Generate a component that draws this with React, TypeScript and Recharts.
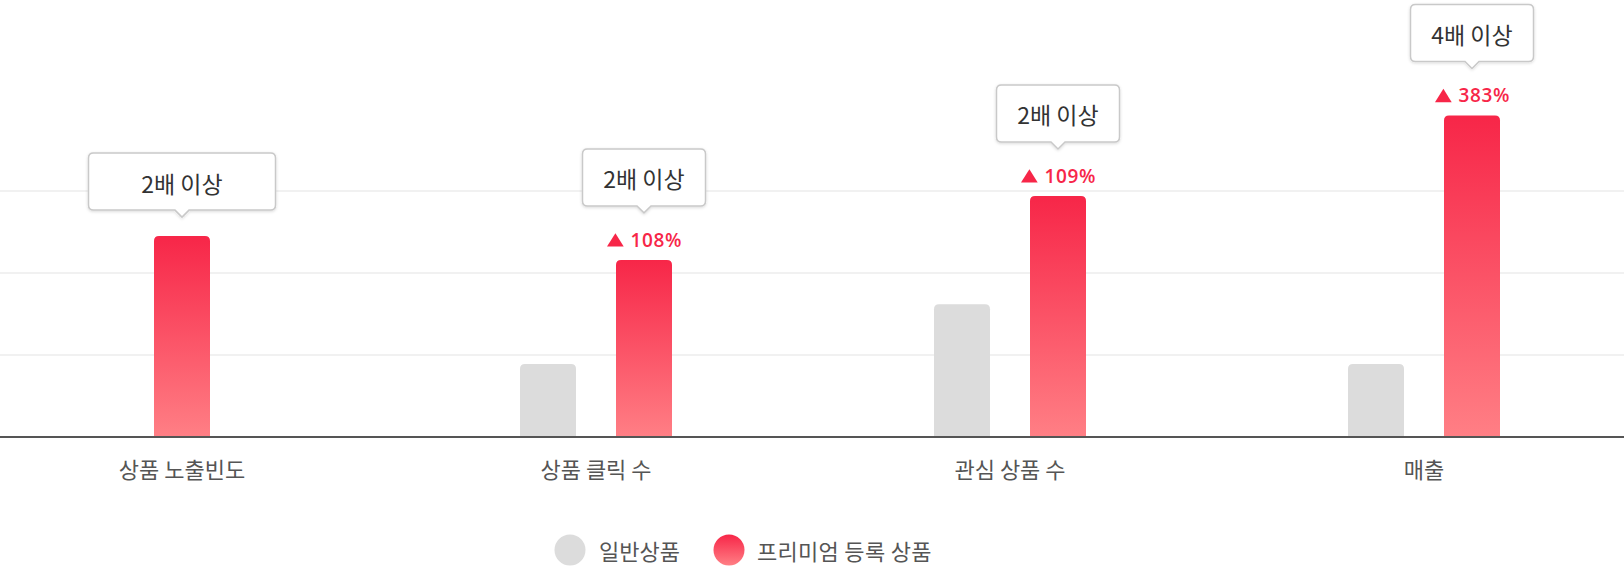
import React from 'react';
import { BarChart, Bar, XAxis, YAxis, CartesianGrid, Legend } from 'recharts';

const categories = ['상품 노출빈도', '상품 클릭 수', '관심 상품 수', '매출'];
const generalValues: (number | null)[] = [null, 89, 162, 89];
const premiumValues = [245, 216, 294, 392];
const increaseLabels = ['', '108%', '109%', '383%'];
const calloutLabels = ['2배 이상', '2배 이상', '2배 이상', '4배 이상'];
const yTicks = [0, 100, 200, 300];
const seriesNames = ['일반상품', '프리미엄 등록 상품'];

const data = categories.map((name, i) => ({
  name,
  general: generalValues[i],
  premium: premiumValues[i],
  increase: increaseLabels[i],
  callout: calloutLabels[i],
}));

const BAR_SIZE = 56;
const BAR_GAP = 40;
const KR_FONT = '"Noto Sans CJK KR", "Noto Sans", sans-serif';
const RED_TOP = '#f72648';
const RED_BOTTOM = '#ff7f85';
const GRAY = '#dcdcdc';

function topRounded(x: number, y: number, w: number, h: number, r: number) {
  const rr = Math.min(r, h, w / 2);
  return `M${x},${y + h} L${x},${y + rr} Q${x},${y} ${x + rr},${y} L${x + w - rr},${y} Q${x + w},${y} ${x + w},${y + rr} L${x + w},${y + h} Z`;
}

function Callout({ cx, tipY, text, boxW }: { cx: number; tipY: number; text: string; boxW: number }) {
  const boxH = 57;
  const arrowH = 7;
  const arrowW = 7;
  const r = 5;
  const by1 = tipY - arrowH;
  const by0 = by1 - boxH;
  const bx0 = cx - boxW / 2;
  const bx1 = cx + boxW / 2;
  const d = `M${bx0 + r},${by0} H${bx1 - r} Q${bx1},${by0} ${bx1},${by0 + r} V${by1 - r} Q${bx1},${by1} ${bx1 - r},${by1} H${cx + arrowW} L${cx},${tipY} L${cx - arrowW},${by1} H${bx0 + r} Q${bx0},${by1} ${bx0},${by1 - r} V${by0 + r} Q${bx0},${by0} ${bx0 + r},${by0} Z`;
  return (
    <g>
      <path d={d} fill="#fff" stroke="#c9c9c9" strokeWidth={1.5} filter="url(#calloutShadow)" />
      <text
        x={cx}
        y={(by0 + by1) / 2 + 1}
        textAnchor="middle"
        dominantBaseline="central"
        fontFamily={KR_FONT}
        fontSize={23}
        fill="#333"
      >
        {text}
      </text>
    </g>
  );
}

function PremiumShape(props: any) {
  const { x, y, width, height, payload } = props;
  if (height == null || height <= 0) return null;
  const solo = payload.general == null;
  const sx = solo ? x - (BAR_SIZE + BAR_GAP) / 2 : x;
  const cx = sx + width / 2;
  const hasInc = !!payload.increase;
  const labelCY = y - 20;
  return (
    <g>
      <path d={topRounded(sx, y, width, height, 5)} fill="url(#premiumGrad)" />
      {hasInc && (
        <g>
          <path
            d={`M${cx - 37},${labelCY + 6.7} L${cx - 28.6},${labelCY - 6.7} L${cx - 20.3},${labelCY + 6.7} Z`}
            fill={RED_TOP}
          />
          <text
            x={cx - 13.5}
            y={labelCY + 6.8}
            textAnchor="start"
            fontFamily='"Open Sans", sans-serif'
            fontWeight={600}
            fontSize={19}
            letterSpacing={0.6}
            fill={RED_TOP}
          >
            {payload.increase}
          </text>
        </g>
      )}
      <Callout
        cx={cx}
        tipY={hasInc ? y - 47 : y - 19}
        text={payload.callout}
        boxW={hasInc ? 123 : 187}
      />
    </g>
  );
}

function GeneralShape(props: any) {
  const { x, y, width, height } = props;
  if (height == null || height <= 0) return null;
  return <path d={topRounded(x, y, width, height, 5)} fill={GRAY} />;
}

function LegendContent() {
  return (
    <div style={{ display: 'flex', alignItems: 'center', fontFamily: KR_FONT, fontSize: 22, color: '#555', whiteSpace: 'nowrap' }}>
      <svg width={32} height={32} style={{ display: 'block', flex: 'none' }}>
        <circle cx={16} cy={16} r={15.5} fill={GRAY} />
      </svg>
      <span style={{ marginLeft: 13 }}>{seriesNames[0]}</span>
      <svg width={32} height={32} style={{ display: 'block', marginLeft: 33, flex: 'none' }}>
        <defs>
          <linearGradient id="legendGrad" x1="0" y1="0" x2="0" y2="1">
            <stop offset="0%" stopColor={RED_TOP} />
            <stop offset="100%" stopColor={RED_BOTTOM} />
          </linearGradient>
        </defs>
        <circle cx={16} cy={16} r={15.5} fill="url(#legendGrad)" />
      </svg>
      <span style={{ marginLeft: 12, letterSpacing: 0.3 }}>{seriesNames[1]}</span>
    </div>
  );
}

export default function App() {
  return (
    <div style={{ width: 1624, height: 566, position: 'relative', background: '#fff' }}>
      <style>{'body{margin:0;}'}</style>
      <BarChart
        width={1624}
        height={566}
        data={data}
        margin={{ top: 27, right: -7, bottom: 99, left: -25 }}
        barSize={BAR_SIZE}
        barGap={BAR_GAP}
      >
        <defs>
          <linearGradient id="premiumGrad" x1="0" y1="0" x2="0" y2="1">
            <stop offset="0%" stopColor={RED_TOP} />
            <stop offset="100%" stopColor={RED_BOTTOM} />
          </linearGradient>
          <filter id="calloutShadow" x="-20%" y="-20%" width="140%" height="160%">
            <feDropShadow dx={0} dy={1} stdDeviation={1.5} floodColor="#000" floodOpacity={0.15} />
          </filter>
        </defs>
        <CartesianGrid vertical={false} stroke="#ececec" strokeWidth={1.5} horizontalValues={yTicks} />
        <XAxis
          dataKey="name"
          height={30}
          tickLine={false}
          tickSize={0}
          tickMargin={25}
          axisLine={{ stroke: '#555', strokeWidth: 2 }}
          tick={{ fontFamily: KR_FONT, fontSize: 22, fill: '#555' }}
          interval={0}
        />
        <YAxis hide domain={[0, 500]} ticks={yTicks} />
        <Bar dataKey="general" name={seriesNames[0]} fill={GRAY} shape={<GeneralShape />} isAnimationActive={false} />
        <Bar dataKey="premium" name={seriesNames[1]} fill={RED_TOP} shape={<PremiumShape />} isAnimationActive={false} />
        <Legend
          layout="horizontal"
          verticalAlign="middle"
          align="center"
          wrapperStyle={{ left: 554, top: 534, width: 500 }}
          content={<LegendContent />}
        />
      </BarChart>
    </div>
  );
}
